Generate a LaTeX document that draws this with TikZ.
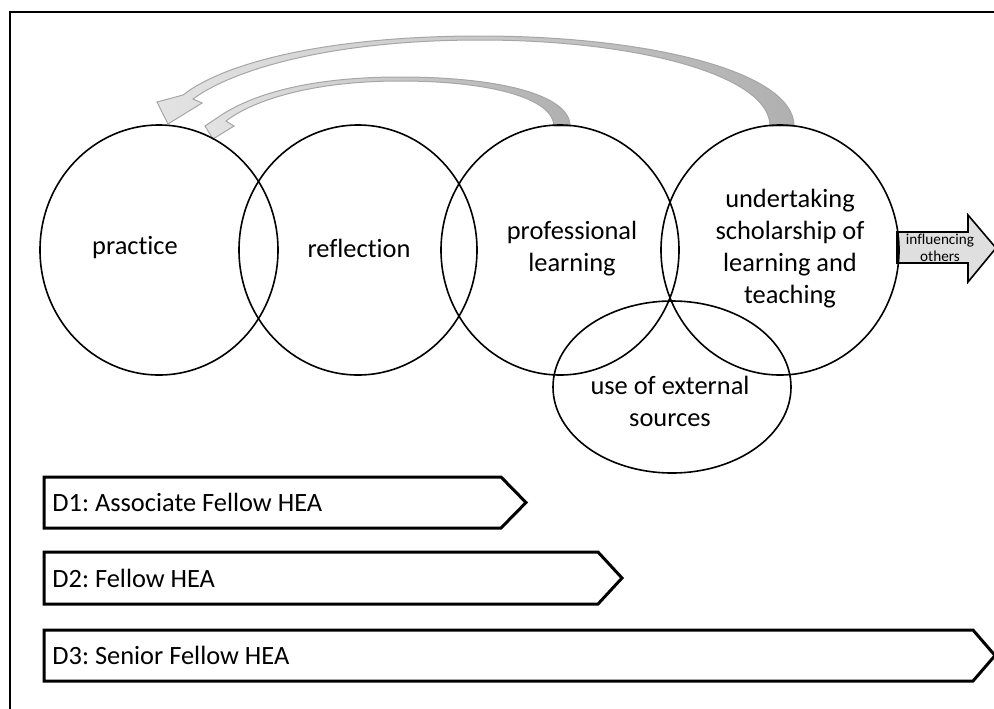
\documentclass[tikz,border=0pt]{standalone}
\usepackage{fontspec}
\setmainfont{Carlito}[Ligatures=NoCommon]
\frenchspacing
\usetikzlibrary{shapes.geometric}

\begin{document}
\begin{tikzpicture}[
    x=0.5pt, y=-0.5pt,
    ring/.style={
        draw,
        ellipse,
        line width=0.8pt,
        minimum width=119pt,
        minimum height=125pt,
        inner sep=0pt
    },
    ringtext/.style={
        align=center,
        inner sep=0pt,
        font=\fontsize{13.2}{16}\selectfont
    },
    levelbox/.style={draw, line width=1.5pt, line join=miter},
    leveltext/.style={
        anchor=west,
        inner sep=0pt,
        font=\fontsize{13.2}{16}\selectfont
    },
    looparrow/.style={
        draw=gray!70,
        line width=0.5pt,
        left color=gray!22,
        right color=gray!62
    }
]
    \useasboundingbox (0,0) rectangle (994,708);

    % Moldura (cortada a direita e em baixo)
    \draw[line width=1pt] (10,730) -- (10,12) -- (1010,12);

    % Setas curvas de volta para a pratica
    \path[looparrow] (794,126) .. controls (794,72) and (650,36) .. (480,36)
        .. controls (330,36) and (225,62) .. (183,95) -- (157,102) -- (168,124)
        -- (202,103) -- (193,99) .. controls (232,70) and (330,40) .. (480,40)
        .. controls (640,40) and (770,76) .. (770,126) -- cycle;
    \path[looparrow] (570,126) .. controls (570,95) and (500,77) .. (400,77)
        .. controls (300,77) and (245,98) .. (217,118) -- (205,126) -- (213,139)
        -- (234,126) -- (226,121) .. controls (252,101) and (310,81) .. (400,81)
        .. controls (490,81) and (553,98) .. (554,126) -- cycle;

    % Seta de saida
    \draw[fill=gray!25, line width=0.8pt] (897,232) -- (968,232) -- (968,215)
        -- (996,248) -- (968,282) -- (968,263) -- (897,263) -- cycle;
    \node[align=center, inner sep=0pt, font=\fontsize{7.6}{8.6}\selectfont]
        (infl) at (940,248) {influencing\\others};

    % Circulos
    \node[ring] (prac)  at (159,250) {};
    \node[ring] (refl)  at (358,250) {};
    \node[ring] (prof)  at (560,250) {};
    \node[ring] (schol) at (780,250) {};
    \node[ring, minimum width=119pt, minimum height=86pt] (ext) at (672,387) {};

    % Textos dos circulos
    \node[ringtext] (prac-text)  at (135,248) {practice};
    \node[ringtext] (refl-text)  at (359,248) {reflection};
    \node[ringtext] (prof-text)  at (572,249) {professional\\learning};
    \node[ringtext] (schol-text) at (790,249) {undertaking\\scholarship of\\learning and\\teaching};
    \node[ringtext] (ext-text)   at (670,401) {use of external\\sources};

    % Niveis D1--D3
    \draw[levelbox] (44,477) -- (501,477) -- (526,502.5) -- (501,528) -- (44,528) -- cycle;
    \draw[levelbox] (44,552) -- (598,552) -- (622,578) -- (598,604) -- (44,604) -- cycle;
    \draw[levelbox] (44,630) -- (973,630) -- (995,655.5) -- (973,681) -- (44,681) -- cycle;
    \node[leveltext] (d1) at (52,502) {D1: Associate Fellow HEA};
    \node[leveltext] (d2) at (52,578) {D2: Fellow HEA};
    \node[leveltext] (d3) at (52,655) {D3: Senior Fellow HEA};
\end{tikzpicture}
\end{document}
